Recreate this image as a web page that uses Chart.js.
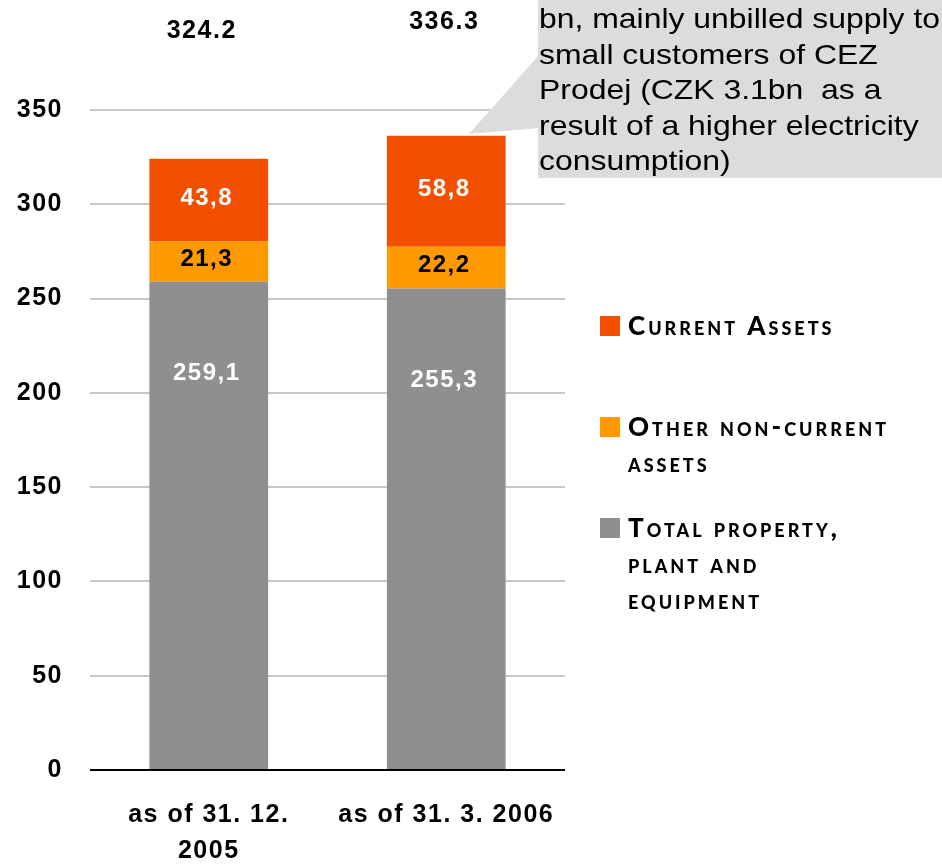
<!DOCTYPE html>
<html>
<head>
<meta charset="utf-8">
<script src="https://cdn.jsdelivr.net/npm/chart.js@4/dist/chart.umd.min.js"></script>
<style>
  html, body { margin: 0; padding: 0; background: #ffffff; }
  #wrap { width: 942px; height: 866px; position: relative; }
</style>
</head>
<body>
<div id="wrap"><canvas id="c" width="942" height="866"></canvas></div>
<script>
// ---- data ----
const categories = [['as of 31. 12.', '2005'], 'as of 31. 3. 2006'];
const propertyPlant = [259.1, 255.3];
const otherNonCurrent = [21.3, 22.2];
const currentAssets = [43.8, 58.8];
const seriesNames = ['Total property, plant and equipment', 'Other non-current assets', 'Current Assets'];
const legendLines = [['Current Assets'], ['Other non-current', 'assets'], ['Total property,', 'plant and', 'equipment']];
const yTicks = [0, 50, 100, 150, 200, 250, 300, 350];
const calloutLines = [
  'bn, mainly unbilled supply to',
  'small customers of CEZ',
  'Prodej (CZK 3.1bn  as a',
  'result of a higher electricity',
  'consumption)'
];

const COLORS = { grey: '#8f8f8f', yellow: '#ff9900', orange: '#f25000' };
const FONT = '"Liberation Sans", Arial, sans-serif';

const fmtComma = v => v.toFixed(1).replace('.', ',');

const spacingPlugin = {
  id: 'spacing',
  beforeDraw(chart) { chart.ctx.letterSpacing = '1.5px'; }
};

const labelsPlugin = {
  id: 'labels',
  afterDatasetsDraw(chart) {
    const ctx = chart.ctx;
    ctx.save();
    ctx.letterSpacing = '1.5px';
    ctx.font = 'bold 24px ' + FONT;
    ctx.textAlign = 'center';
    ctx.textBaseline = 'middle';
    const textColors = ['#ffffff', '#000000', '#ffffff'];
    chart.data.datasets.forEach((ds, di) => {
      const meta = chart.getDatasetMeta(di);
      meta.data.forEach((bar, i) => {
        const v = ds.data[i];
        let y;
        if (di === 0) y = bar.y + 92;
        else y = (bar.y + bar.base) / 2 - 2;
        ctx.fillStyle = textColors[di];
        ctx.fillText(fmtComma(v), bar.x - 2, y);
      });
    });
    // totals above bars
    ctx.fillStyle = '#000000';
    ctx.font = 'bold 25px ' + FONT;
    const totalY = [31, 22];
    const totalDx = [-7, -2];
    const top = chart.getDatasetMeta(2).data;
    top.forEach((bar, i) => {
      const total = propertyPlant[i] + otherNonCurrent[i] + currentAssets[i];
      ctx.fillText(total.toFixed(1), bar.x + totalDx[i], totalY[i]);
    });
    ctx.restore();
  }
};

const overlayPlugin = {
  id: 'overlay',
  afterDraw(chart) {
    const ctx = chart.ctx;
    ctx.save();
    ctx.letterSpacing = '0px';
    // callout
    ctx.fillStyle = '#dcdcdc';
    ctx.beginPath();
    ctx.rect(538, -10, 420, 188);
    ctx.fill();
    ctx.beginPath();
    ctx.moveTo(539, 55);
    ctx.lineTo(469, 134);
    ctx.lineTo(539, 128);
    ctx.closePath();
    ctx.fill();
    ctx.fillStyle = '#000000';
    ctx.font = '28px ' + FONT;
    ctx.textAlign = 'left';
    ctx.textBaseline = 'alphabetic';
    calloutLines.forEach((t, i) => {
      ctx.save();
      ctx.translate(539, 28 + i * 35.5);
      ctx.scale(1.14, 1);
      ctx.fillText(t, 0, 0);
      ctx.restore();
    });

    // legend
    const order = [2, 1, 0];
    order.forEach((di, k) => {
      const ds = chart.data.datasets[di];
      const top = 316 + k * 101;
      ctx.fillStyle = ds.backgroundColor;
      ctx.fillRect(600, top, 20, 20);
      ctx.fillStyle = '#000000';
      ctx.font = 'small-caps 900 26px Lato, "DejaVu Sans", sans-serif';
      ctx.letterSpacing = '3px';
      legendLines[k].forEach((line, j) => {
        ctx.fillText(line, 628, top + 19 + j * 36);
      });
    });
    ctx.restore();
  }
};

new Chart(document.getElementById('c'), {
  type: 'bar',
  data: {
    labels: categories,
    datasets: [
      { label: seriesNames[0], data: propertyPlant, backgroundColor: COLORS.grey },
      { label: seriesNames[1], data: otherNonCurrent, backgroundColor: COLORS.yellow },
      { label: seriesNames[2], data: currentAssets, backgroundColor: COLORS.orange }
    ]
  },
  options: {
    responsive: false,
    animation: false,
    devicePixelRatio: 1,
    layout: { padding: { left: 0, right: 377, top: 110, bottom: 0 } },
    plugins: { legend: { display: false }, tooltip: { enabled: false } },
    datasets: { bar: { categoryPercentage: 1.0, barPercentage: 0.5 } },
    scales: {
      x: {
        stacked: true,
        grid: { display: false, drawTicks: false },
        border: { display: false },
        ticks: {
          color: '#000000',
          padding: 27,
          maxRotation: 0,
          autoSkip: false,
          font: { family: FONT, size: 25, weight: 'bold', lineHeight: 1.45 }
        },
        afterFit(scale) { scale.height = 96; }
      },
      y: {
        stacked: true,
        min: 0,
        max: 350,
        afterBuildTicks(scale) { scale.ticks = yTicks.map(v => ({ value: v })); },
        grid: {
          drawTicks: false,
          lineWidth: 2,
          color: c => (c.tick && c.tick.value === 0) ? '#000000' : '#c8c8c8'
        },
        border: { display: false },
        ticks: {
          color: '#000000',
          padding: 27,
          font: { family: FONT, size: 25, weight: 'bold' }
        },
        afterFit(scale) { scale.width = 90; }
      }
    }
  },
  plugins: [spacingPlugin, labelsPlugin, overlayPlugin]
});
</script>
</body>
</html>
